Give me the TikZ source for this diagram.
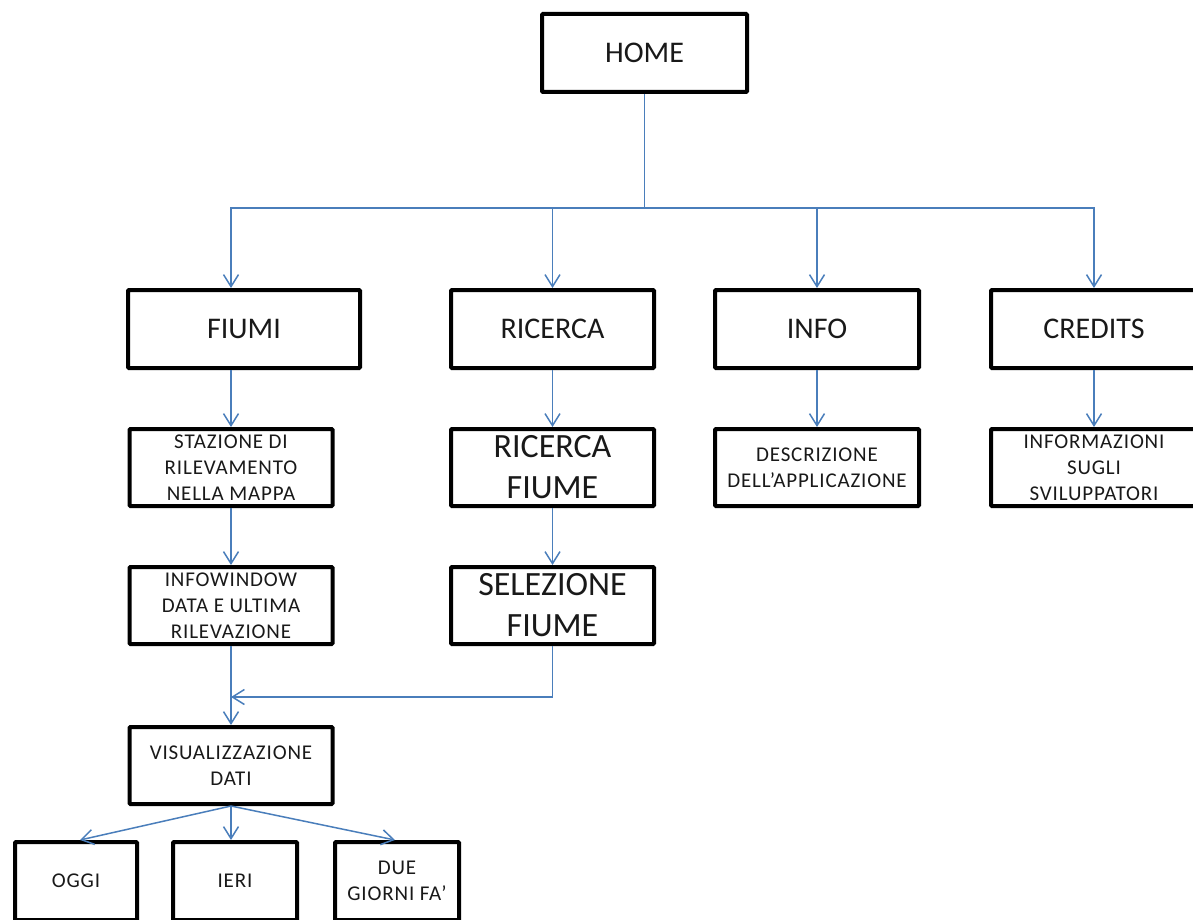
\documentclass[tikz,border=0pt]{standalone}
\usepackage{fontspec}
\setmainfont{Carlito}
\newfontfamily\smallfont[LetterSpace=4]{Carlito}
\usetikzlibrary{arrows.meta,calc}
\definecolor{conncol}{HTML}{4A7EBB}
\begin{document}
\begin{tikzpicture}[x=1pt,y=-1pt,
  box/.style={draw=black, line width=4pt, rounded corners=1pt, fill=white,
    inner sep=0pt, align=center, text=black!90},
  mid/.style={box, font=\fontsize{30}{36}\selectfont},
  big/.style={box, font=\fontsize{34}{41}\selectfont},
  tiny/.style={box, font=\smallfont\fontsize{21}{25.8}\selectfont},
  conn/.style={draw=conncol, line width=1.5pt},
  arr/.style={conn, -{Straight Barb[length=12pt,width=15pt,line width=1.5pt]}}]
\useasboundingbox (0,0) rectangle (1193,920);
% boxes
\node[mid, minimum width=205pt, minimum height=78pt] (home) at (644.5,53) {HOME};
\node[mid, minimum width=232pt, minimum height=78pt] (fiumi) at (244,329) {FIUMI};
\node[mid, minimum width=203pt, minimum height=78pt] (ricerca) at (552.5,329) {RICERCA};
\node[mid, minimum width=204pt, minimum height=78pt] (info) at (817,329) {INFO};
\node[mid, minimum width=206pt, minimum height=78pt] (credits) at (1094,329) {CREDITS};
\node[tiny, minimum width=203pt, minimum height=77pt] (stazione) at (231,467.5) {STAZIONE DI\\RILEVAMENTO\\NELLA MAPPA};
\node[big, minimum width=203pt, minimum height=77pt] (ricfiume) at (552.5,467.5) {RICERCA\\FIUME};
\node[tiny, minimum width=204pt, minimum height=77pt] (descr) at (817,467.5) {DESCRIZIONE\\DELL’APPLICAZIONE};
\node[tiny, minimum width=206pt, minimum height=77pt] (inform) at (1094,467.5) {INFORMAZIONI\\SUGLI\\SVILUPPATORI};
\node[tiny, minimum width=203pt, minimum height=77pt] (infowin) at (231,605.5) {INFOWINDOW\\DATA E ULTIMA\\RILEVAZIONE};
\node[big, minimum width=203pt, minimum height=77pt] (selez) at (552.5,605.5) {SELEZIONE\\FIUME};
\node[tiny, minimum width=203pt, minimum height=77pt] (visual) at (231,765.5) {VISUALIZZAZIONE\\DATI};
\node[tiny, minimum width=122pt, minimum height=78pt] (oggi) at (76,881) {OGGI};
\node[tiny, minimum width=124pt, minimum height=78pt] (ieri) at (235,881) {IERI};
\node[tiny, minimum width=124pt, minimum height=78pt] (due) at (397,881) {DUE\\GIORNI FA’};
% connectors
\coordinate (bus) at (home.south |- 0,208);
\draw[conn] (home.south) -- (bus);
\draw[arr] (bus) -| (fiumi.north -| stazione.north);
\draw[arr] (bus) -| (ricerca.north);
\draw[arr] (bus) -| (info.north);
\draw[arr] (bus) -| (credits.north);
\draw[arr] (fiumi.south -| stazione.north) -- (stazione.north);
\draw[arr] (ricerca.south) -- (ricfiume.north);
\draw[arr] (info.south) -- (descr.north);
\draw[arr] (credits.south) -- (inform.north);
\draw[arr] (stazione.south) -- (infowin.north);
\draw[arr] (ricfiume.south) -- (selez.north);
\coordinate (join) at (infowin.south |- 0,697);
\draw[arr] (selez.south) |- (join);
\draw[arr] (infowin.south) -- (visual.north);
\draw[arr] (visual.south) -- ($(oggi.north)+(4,0)$);
\draw[arr] (visual.south) -- (ieri.north -| visual.south);
\draw[arr] (visual.south) -- ($(due.north)+(-2,0)$);
\end{tikzpicture}
\end{document}
